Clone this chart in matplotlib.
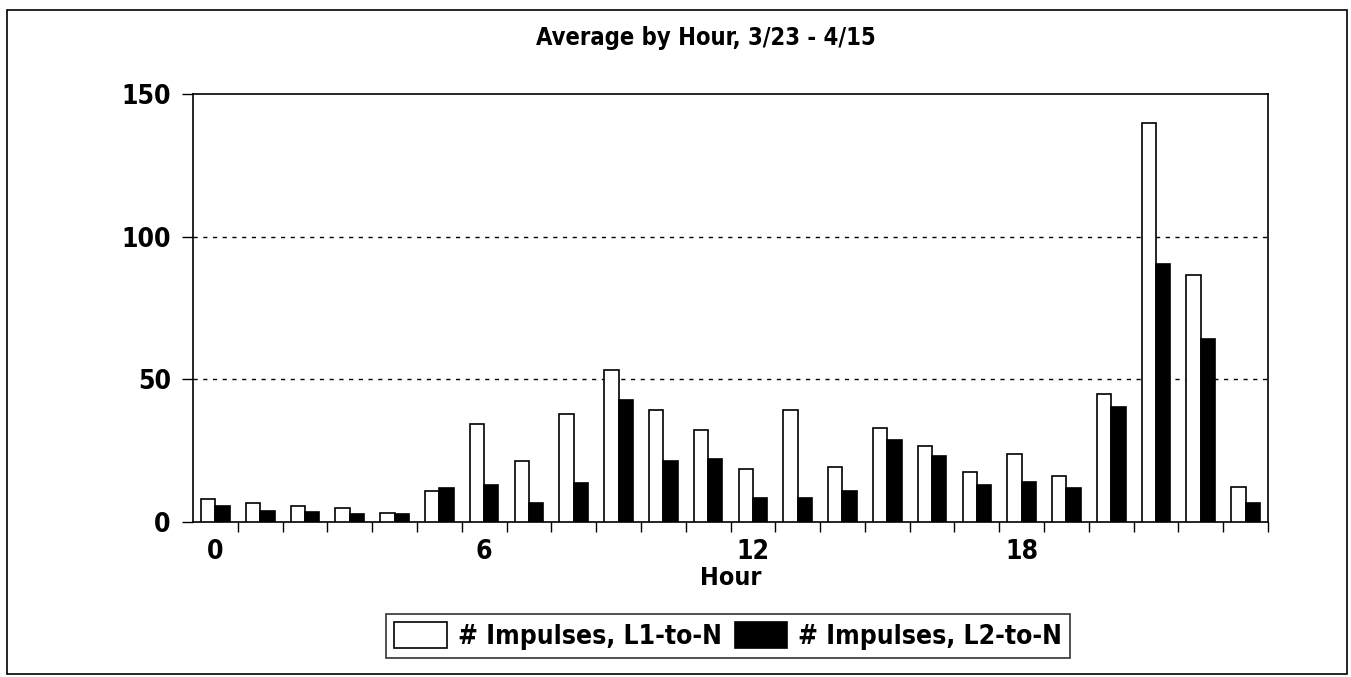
import numpy as np
import matplotlib.pyplot as plt
from matplotlib.patches import Patch, Rectangle

# Data
hours = list(range(24))
l1_to_n = [8.2, 6.7, 5.5, 4.8, 3.2, 10.7, 34.2, 21.4, 37.7, 53.4, 39.2, 32.1,
           18.7, 39.4, 19.3, 33.0, 26.8, 17.5, 24.0, 16.2, 45.0, 140.0, 86.5, 12.3]
l2_to_n = [5.6, 3.8, 3.4, 2.9, 2.9, 11.8, 13.1, 6.6, 13.5, 42.7, 21.5, 22.2,
           8.5, 8.5, 11.0, 28.7, 23.3, 13.1, 14.0, 12.0, 40.2, 90.5, 64.0, 6.8]
xtick_pos = [0, 6, 12, 18]
ytick_pos = [0, 50, 100, 150]

plt.rcParams['font.family'] = ['DejaVu Sans']
plt.rcParams['font.stretch'] = 'condensed'
plt.rcParams['font.weight'] = 'bold'

W, H = 1351, 677
fig = plt.figure(figsize=(W / 100, H / 100), dpi=100)
ax = fig.add_axes([193 / W, 1 - 522 / H, 1075 / W, 428 / H])

x = np.array(hours)
w = 0.32
ax.bar(x - w / 2, l1_to_n, width=w, color='white', edgecolor='black', linewidth=1.2, zorder=3)
ax.bar(x + w / 2, l2_to_n, width=w, color='black', edgecolor='black', linewidth=1.2, zorder=3)

# dotted gridlines
for v in [50, 100]:
    ax.axhline(v, color='black', linewidth=1, linestyle=(0, (3, 4)), zorder=1)

ax.set_xlim(-0.5, 23.5)
ax.set_ylim(0, 150)
ax.set_xticks(xtick_pos)
ax.set_xticklabels([str(t) for t in xtick_pos])
ax.set_xticks(np.arange(0.5, 24, 1), minor=True)
ax.tick_params(axis='x', which='major', length=0, pad=12, labelsize=19)
ax.tick_params(axis='x', which='minor', length=7, width=1, direction='out')
ax.set_yticks(ytick_pos)
ax.tick_params(axis='y', length=8, width=1, direction='out', pad=8, labelsize=19)
for s in ax.spines.values():
    s.set_linewidth(1.2)

ax.set_xlabel('Hour', fontsize=18, fontweight='bold', labelpad=1)

fig.text(706 / W, 1 - 38 / H, 'Average by Hour, 3/23 - 4/15',
         ha='center', va='center', fontsize=17, fontweight='bold')

handles = [Patch(facecolor='white', edgecolor='black', linewidth=1.2),
           Patch(facecolor='black', edgecolor='black', linewidth=1.2)]
leg = fig.legend(handles, ['# Impulses, L1-to-N', '# Impulses, L2-to-N'],
                 loc='center', bbox_to_anchor=(728 / W, 1 - 636 / H), ncol=2,
                 fontsize=19, frameon=True, fancybox=False, edgecolor='black',
                 handlelength=2.0, handleheight=1.1, handletextpad=0.4,
                 columnspacing=0.5, borderpad=0.3, borderaxespad=0)
leg.get_frame().set_linewidth(1.2)

# outer border
fig.patches.append(Rectangle((7 / W, 1 - 674 / H), 1340 / W, 664 / H,
                             transform=fig.transFigure, fill=False,
                             edgecolor='black', linewidth=1.2))

fig.savefig('out.png', dpi=100)
